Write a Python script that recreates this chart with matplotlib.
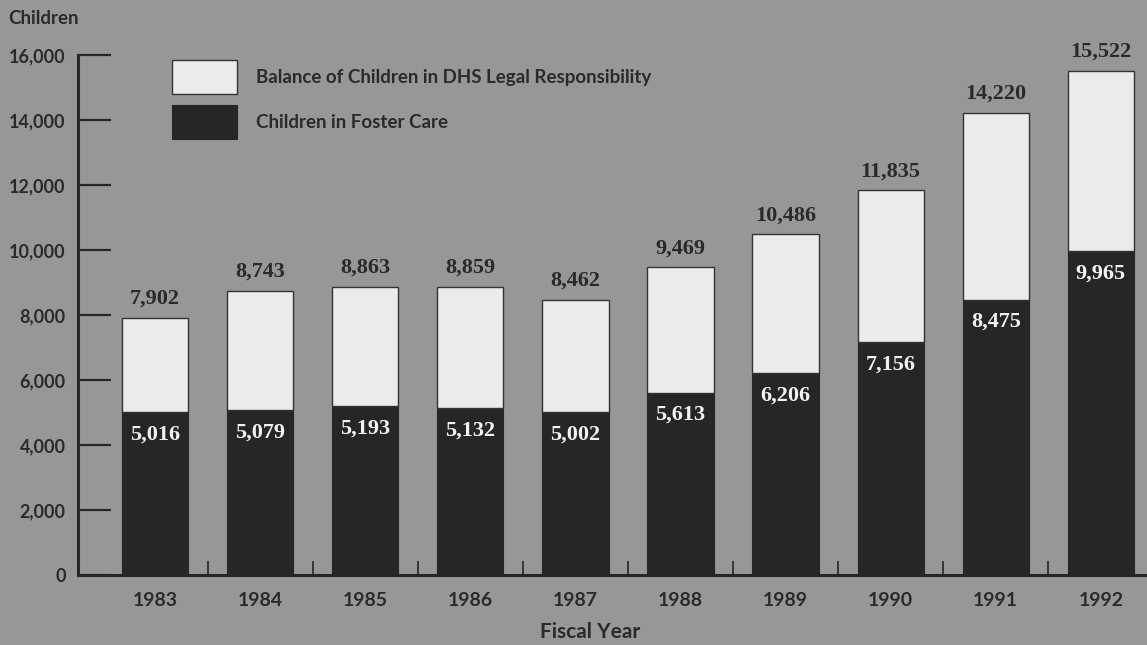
import numpy as np
import matplotlib
matplotlib.use("Agg")
from matplotlib import pyplot as plt
from matplotlib.ticker import FuncFormatter, FixedLocator

years = ["1983", "1984", "1985", "1986", "1987", "1988", "1989", "1990", "1991", "1992"]
foster = [5016, 5079, 5193, 5132, 5002, 5613, 6206, 7156, 8475, 9965]
total = [7902, 8743, 8863, 8859, 8462, 9469, 10486, 11835, 14220, 15522]
balance = [t - f for t, f in zip(total, foster)]

bg = "#979797"
dark = "#262626"
light = "#ebebeb"
txt = "#2a2a2a"

plt.rcParams["font.family"] = ["Lato", "DejaVu Sans"]
plt.rcParams["font.weight"] = "bold"

fig = plt.figure(figsize=(11.47, 6.45), dpi=100, facecolor=bg)
ax = fig.add_axes([78 / 1147, 1 - 575 / 645, 1 - 78 / 1147, 520 / 645])
ax.set_facecolor(bg)

x = np.arange(len(years))
w = 0.63
ax.bar(x, foster, w, color=dark, edgecolor=dark, linewidth=0.8, zorder=2,
       label="Children in Foster Care")
ax.bar(x, balance, w, bottom=foster, color=light, edgecolor="#333333", linewidth=1.0,
       zorder=2, label="Balance of Children in DHS Legal Responsibility")

# totals above, foster-care counts in white inside the dark part
for i in range(len(years)):
    ax.text(x[i], total[i] + 280, f"{total[i]:,}", ha="center", va="bottom",
            fontsize=16, color=txt, fontweight="bold", family=["Liberation Serif"])
    ax.text(x[i], foster[i] - 380, f"{foster[i]:,}", ha="center", va="top",
            fontsize=16, color="#f2f2f2", fontweight="bold", family=["Liberation Serif"])

ax.set_xlim(-0.735, 9.44)
ax.set_ylim(0, 16000)

for s in ["top", "right"]:
    ax.spines[s].set_visible(False)
ax.spines["left"].set_linewidth(2.2)
ax.spines["bottom"].set_linewidth(2.2)
ax.spines["left"].set_color(dark)
ax.spines["bottom"].set_color(dark)

ax.yaxis.set_major_locator(FixedLocator(np.arange(0, 16001, 2000)))
ax.yaxis.set_major_formatter(FuncFormatter(lambda v, p: f"{int(v):,}"))
ax.tick_params(axis="y", direction="in", length=24, width=1.6, color=dark,
               labelsize=13, labelcolor=txt, pad=9)

ax.set_xticks(x)
ax.set_xticklabels(years)
ax.tick_params(axis="x", length=0, labelsize=14, labelcolor=txt, pad=12)
ax.set_xticks(x[:-1] + 0.5, minor=True)
ax.tick_params(axis="x", which="minor", direction="in", length=10, width=1.2, color=dark)

fig.text(8 / 1147, 1 - 18 / 645, "Children", fontsize=13.5, color=txt,
         fontweight="bold", va="center", ha="left")
fig.text(590 / 1147, 1 - 632 / 645, "Fiscal Year", fontsize=15, color=txt,
         fontweight="bold", va="center", ha="center")

h, l = ax.get_legend_handles_labels()
leg = fig.legend(h[::-1], l[::-1], loc="upper left",
                 bbox_to_anchor=(172 / 1147, 1 - 60 / 645), frameon=False,
                 borderpad=0, borderaxespad=0, handlelength=3.47, handleheight=2.4,
                 labelspacing=0.6, handletextpad=1.0, fontsize=13.5)
for t in leg.get_texts():
    t.set_color(txt)

fig.savefig("out.png", dpi=100, facecolor=bg)
